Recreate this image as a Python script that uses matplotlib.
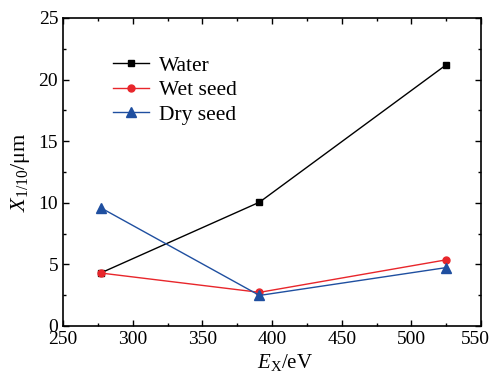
import matplotlib
matplotlib.use("Agg")
import matplotlib.pyplot as plt
from matplotlib.ticker import MultipleLocator
import matplotlib.transforms as mtransforms

plt.rcParams['font.family'] = ['Liberation Serif', 'DejaVu Serif']
plt.rcParams['mathtext.fontset'] = 'custom'
plt.rcParams['mathtext.rm'] = 'Liberation Serif'
plt.rcParams['mathtext.it'] = 'Liberation Serif:italic'

energy = [277, 391, 525]
water = [4.3, 10.05, 21.2]
wet_seed = [4.3, 2.73, 5.37]
dry_seed = [9.6, 2.48, 4.74]
x_ticks = [250, 300, 350, 400, 450, 500, 550]
y_ticks = [0, 5, 10, 15, 20, 25]

fig = plt.figure(figsize=(4.93, 3.78), dpi=100)
ax = fig.add_axes([0.1278, 0.1376, 0.848, 0.8148])

ax.plot(energy, water, color='black', lw=1.0, marker='s', ms=4.5, label='Water')
ax.plot(energy, wet_seed, color='#e8262b', lw=1.0, marker='o', ms=5, label='Wet seed')
ax.plot(energy, dry_seed, color='#1f4fa0', lw=1.0, marker='^', ms=7, label='Dry seed')

ax.set_xlim(250, 550)
ax.set_ylim(0, 25)
ax.set_xticks(x_ticks)
ax.set_yticks(y_ticks)
ax.xaxis.set_minor_locator(MultipleLocator(25))
ax.yaxis.set_minor_locator(MultipleLocator(2.5))
ax.tick_params(which='both', direction='in', top=True, right=True, labelsize=14, width=1)
ax.tick_params(which='major', length=4)
ax.tick_params(which='minor', length=2.5)
ax.tick_params(top=True, right=True, labeltop=False, labelright=False)
for s in ax.spines.values():
    s.set_linewidth(1.2)

ax.set_xlabel(r'$E_{\mathrm{X}}$/eV', fontsize=15)
ax.xaxis.set_label_coords(0.531, -0.085)
ax.xaxis.label.set_va('top')
ax.set_ylabel(r'$X_{1/10}$/$\mathrm{\mu}$m', fontsize=16)
ax.yaxis.set_label_coords(-0.073, 0.5)

fig.canvas.draw()
last_tick = ax.xaxis.get_major_ticks()[len(x_ticks) - 1]
last_tick.label1.set_transform(last_tick.label1.get_transform() +
                               mtransforms.ScaledTranslation(-6/100, 0, fig.dpi_scale_trans))

ax.legend(loc='upper left', bbox_to_anchor=(0.1, 0.905), frameon=False, fontsize=15.5,
          handlelength=1.65, handletextpad=0.45, labelspacing=0.2, borderaxespad=0)

fig.savefig('out.png', dpi=100)
